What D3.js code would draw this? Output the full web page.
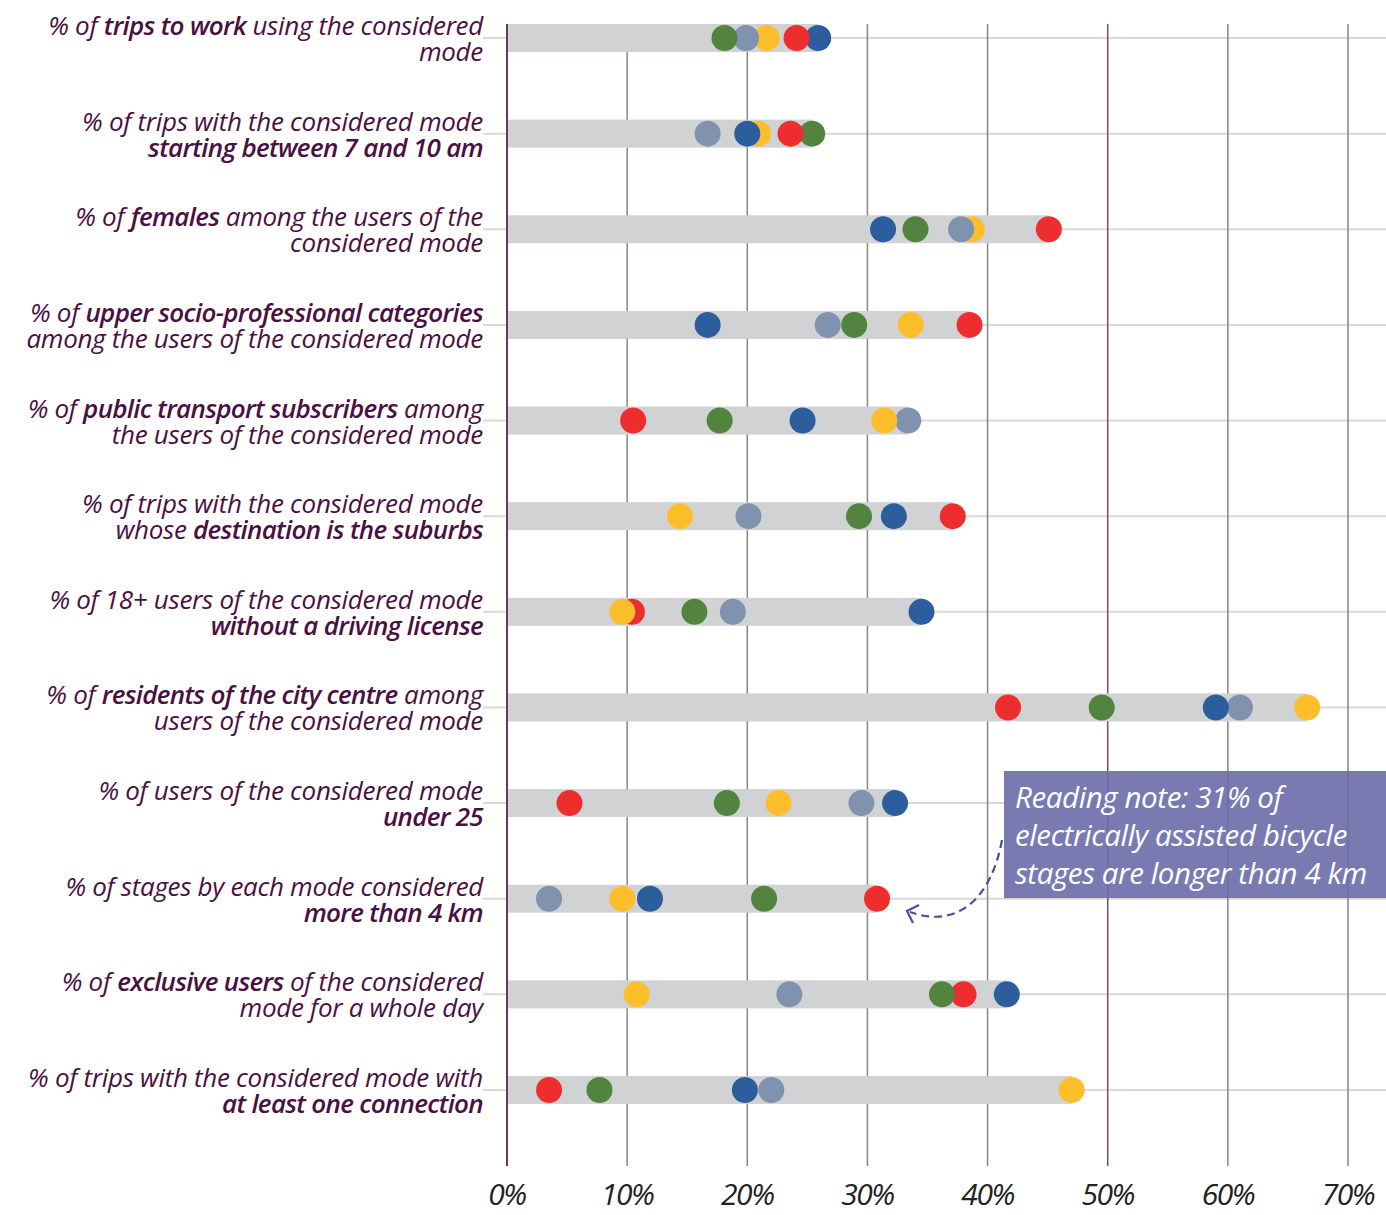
<!DOCTYPE html>
<html>
<head>
<meta charset="utf-8">
<style>
body { margin: 0; background: #fff; }
.lab { font-family: "Open Sans", Lato, sans-serif; font-style: italic; fill: #4a1042; font-size: 26px; letter-spacing: -0.3px; }
.lab .b { font-weight: 600; letter-spacing: -0.7px; }
.tick-lab { font-family: "Open Sans", sans-serif; font-style: italic; fill: #222; font-size: 30px; letter-spacing: -1.5px; }
.note { font-family: "Open Sans", sans-serif; font-style: italic; fill: #fff; font-size: 29.5px; letter-spacing: -0.4px; }
</style>
</head>
<body>
<div id="chart"></div>
<script src="https://d3js.org/d3.v7.min.js"></script>
<script>

// label lines: parts wrapped in * are bold
const labels = [
  ["% of *trips to work* using the considered", "mode"],
  ["% of trips with the considered mode", "*starting between 7 and 10 am*"],
  ["% of *females* among the users of the", "considered mode"],
  ["% of *upper socio-professional categories*", "among the users of the considered mode"],
  ["% of *public transport subscribers* among", "the users of the considered mode"],
  ["% of trips with the considered mode", "whose *destination is the suburbs*"],
  ["% of 18+ users of the considered mode", "*without a driving license*"],
  ["% of *residents of the city centre* among", "users of the considered mode"],
  ["% of users of the considered mode", "*under 25*"],
  ["% of stages by each mode considered", "*more than 4 km*"],
  ["% of *exclusive users* of the considered", "mode for a whole day"],
  ["% of trips with the considered mode with", "*at least one connection*"]
];

// values (%) per mode, one per row
const green  = [18.1, 25.4, 34.0, 28.9, 17.7, 29.3, 15.6, 49.5, 18.3, 21.4, 36.2, 7.7];
const yellow = [21.6, 20.9, 38.7, 33.6, 31.4, 14.4,  9.6, 66.6, 22.6,  9.6, 10.8, 47.0];
const blue   = [25.9, 20.0, 31.3, 16.7, 24.6, 32.2, 34.5, 59.0, 32.3, 11.9, 41.6, 19.8];
const red    = [24.1, 23.6, 45.1, 38.5, 10.5, 37.1, 10.4, 41.7,  5.2, 30.8, 38.0,  3.5];
const slate  = [19.9, 16.7, 37.8, 26.7, 33.4, 20.1, 18.8, 61.0, 29.5,  3.5, 23.5, 22.0];

const ticks = [0, 10, 20, 30, 40, 50, 60, 70];
const noteLines = ["Reading note: 31% of", "electrically assisted bicycle", "stages are longer than 4 km"];

const series = [
  {name: "green", color: "#52843f", values: green},
  {name: "yellow", color: "#fdbe2c", values: yellow},
  {name: "blue", color: "#2c5d9d", values: blue},
  {name: "red", color: "#ee2e2e", values: red},
  {name: "slate", color: "#7f93ae", values: slate}
];

const W = 1386, H = 1215;
const svg = d3.select("#chart").append("svg").attr("width", W).attr("height", H);

const x = d3.scaleLinear().domain([0, 70]).range([507, 1348]);
const y = d3.scalePoint().domain(d3.range(labels.length)).range([38, 1090]);

// horizontal row lines
svg.append("g").selectAll("line").data(labels).join("line")
  .attr("x1", 483).attr("x2", W)
  .attr("y1", (d, i) => y(i)).attr("y2", (d, i) => y(i))
  .attr("stroke", "#d9d9d9").attr("stroke-width", 2);

// vertical grid
svg.append("g").selectAll("line").data(ticks).join("line")
  .attr("x1", d => x(d)).attr("x2", d => x(d))
  .attr("y1", 24).attr("y2", 1166)
  .attr("stroke", d => (d === 0 || d === 50) ? "#7b4a6f" : "#858585")
  .attr("stroke-width", d => d === 0 ? 2 : 1.5);

// grey range bars
const maxes = labels.map((d, i) => d3.max(series, s => s.values[i]));
svg.append("g").selectAll("rect").data(maxes).join("rect")
  .attr("x", x(0)).attr("y", (d, i) => y(i) - 14)
  .attr("width", d => x(d) - x(0)).attr("height", 28)
  .attr("fill", "#d1d2d4");

// redraw 0% line over bars
svg.append("line").attr("x1", x(0)).attr("x2", x(0)).attr("y1", 24).attr("y2", 1166)
  .attr("stroke", "#6e3560").attr("stroke-width", 2);

// dots: per row, right-most drawn first so left dots sit on top
const points = [];
labels.forEach((d, i) => series.forEach(s => points.push({row: i, v: s.values[i], color: s.color})));
points.sort((a, b) => a.row - b.row || b.v - a.v);
svg.append("g").selectAll("circle").data(points).join("circle")
  .attr("cx", d => x(d.v)).attr("cy", d => y(d.row)).attr("r", 13)
  .attr("fill", d => d.color);

// row labels
const lab = svg.append("g").selectAll("text").data(labels).join("text")
  .attr("class", "lab").attr("text-anchor", "end");
lab.each(function(lines, i) {
  const t = d3.select(this);
  lines.forEach((line, j) => {
    const parts = line.split("*");
    parts.forEach((p, k) => {
      if (!p) return;
      const ts = t.append("tspan").text(p).classed("b", k % 2 === 1);
      if (k === 0 || (k === 1 && !parts[0])) ts.attr("x", 483).attr("y", y(i) - 3 + j * 26);
    });
  });
});

// tick labels
svg.append("g").selectAll("text").data(ticks).join("text")
  .attr("class", "tick-lab").attr("text-anchor", "middle")
  .attr("x", d => x(d)).attr("y", 1205)
  .text(d => d + "%");

// reading note
svg.append("rect").attr("x", 1004).attr("y", 771).attr("width", 382).attr("height", 127)
  .attr("fill", "#6b6bab").attr("opacity", 0.9);
svg.append("g").selectAll("text").data(noteLines).join("text")
  .attr("class", "note").attr("x", 1015).attr("y", (d, i) => 808 + i * 38)
  .text(d => d);

// dashed arrow
svg.append("path")
  .attr("d", "M1002,840 C992,895 960,930 910,912")
  .attr("fill", "none").attr("stroke", "#4a4e9e").attr("stroke-width", 2.2).attr("stroke-dasharray", "8,5");
svg.append("path")
  .attr("d", "M919,905 L907,911 L913,923")
  .attr("fill", "none").attr("stroke", "#4a4e9e").attr("stroke-width", 2.2);

</script>
</body>
</html>
